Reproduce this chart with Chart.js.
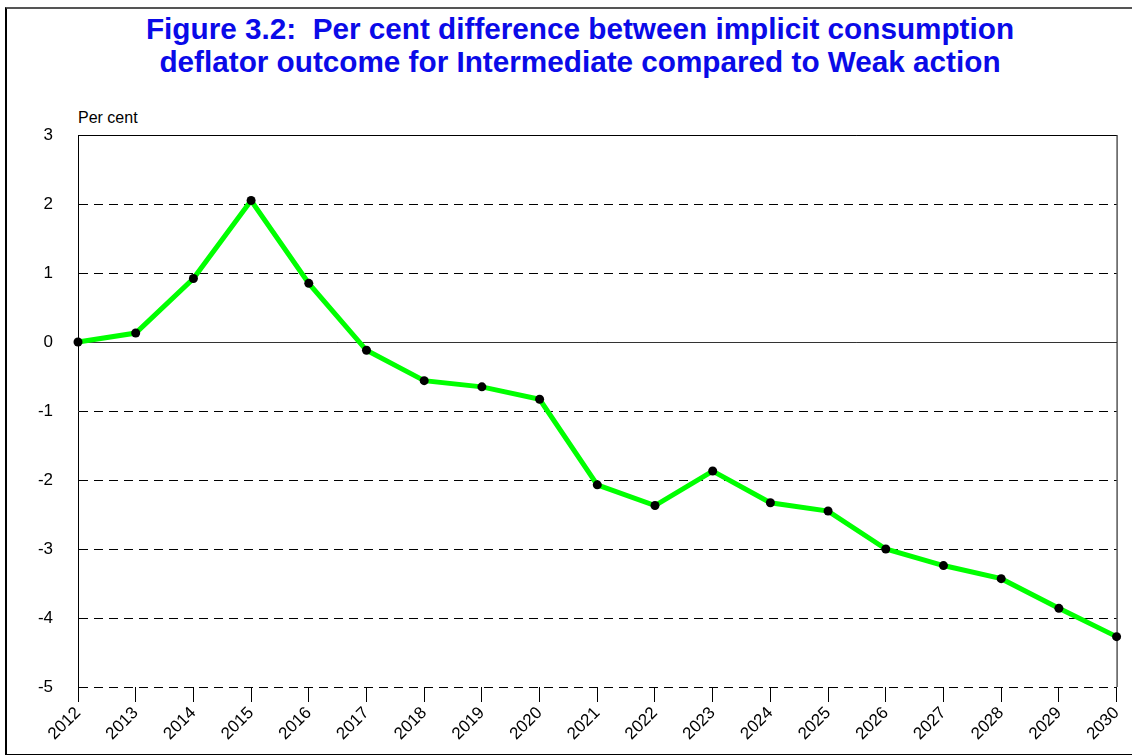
<!DOCTYPE html>
<html>
<head>
<meta charset="utf-8">
<script src="https://cdn.jsdelivr.net/npm/chart.js@4/dist/chart.umd.min.js"></script>
<style>
  html, body { margin: 0; padding: 0; background: #fff; }
  #wrap { position: relative; width: 1132px; height: 755px; overflow: hidden; }
  #frame { position: absolute; left: 5px; top: 7px; width: 1200px; height: 745px;
           border-left: 2px solid #000; border-top: 2px solid #555; border-bottom: 2px solid #000; }
  #title { position: absolute; left: 0; top: 12px; width: 1160px; text-align: center;
           font: bold 30px "Liberation Sans", Arial, sans-serif;
           color: #0a0ae8; line-height: 33px; transform: scaleX(0.99); }
  #unit { position: absolute; left: 78px; top: 109px; font: 16px "Liberation Sans", Arial, sans-serif; color: #000; }
  canvas { position: absolute; left: 0; top: 0; }
</style>
</head>
<body>
<div id="wrap">
  <div id="frame"></div>
  <div id="title">Figure 3.2:&nbsp; Per cent difference between implicit consumption<br>deflator outcome for Intermediate compared to Weak action</div>
  <div id="unit">Per cent</div>
  <canvas id="chart" width="1132" height="755"></canvas>
</div>
<script>
// years along the bottom, per cent difference on the left
const years = ["2012", "2013", "2014", "2015", "2016", "2017", "2018", "2019", "2020", "2021",
               "2022", "2023", "2024", "2025", "2026", "2027", "2028", "2029", "2030"];
const pctDiff = [0, 0.13, 0.92, 2.05, 0.85, -0.12, -0.56, -0.65, -0.83, -2.07,
                 -2.37, -1.87, -2.33, -2.45, -3.0, -3.24, -3.43, -3.86, -4.27];
const yTicks = [3, 2, 1, 0, -1, -2, -3, -4, -5];

// solid top/right frame of the plot and the solid zero line
const frameLines = {
  id: "frameLines",
  afterDraw(chart) {
    const { ctx, chartArea: a } = chart;
    ctx.save();
    ctx.strokeStyle = "#000";
    ctx.lineWidth = 1;
    ctx.beginPath();
    ctx.moveTo(a.left, a.top + 0.5); ctx.lineTo(a.right, a.top + 0.5);
    ctx.moveTo(a.right + 0.5, a.top); ctx.lineTo(a.right + 0.5, a.bottom);
    ctx.stroke();
    ctx.restore();
  },
  beforeDatasetsDraw(chart) {
    const { ctx, chartArea: a, scales } = chart;
    const y0 = Math.round(scales.y.getPixelForValue(0)) + 0.5;
    ctx.save();
    ctx.strokeStyle = "#333";
    ctx.lineWidth = 1;
    ctx.beginPath();
    ctx.moveTo(a.left, y0); ctx.lineTo(a.right, y0);
    ctx.stroke();
    ctx.restore();
  }
};

new Chart(document.getElementById("chart"), {
  type: "line",
  data: {
    labels: years,
    datasets: [{
      data: pctDiff,
      borderColor: "#00ff00",
      borderWidth: 5,
      pointRadius: 4.5,
      pointBackgroundColor: "#000",
      pointBorderColor: "#000",
      pointBorderWidth: 0,
      tension: 0,
      clip: false,
    }],
  },
  options: {
    responsive: false,
    animation: false,
    layout: { padding: { top: 135, right: 11, left: 0, bottom: 0 } },
    plugins: { legend: { display: false }, title: { display: false }, tooltip: { enabled: false } },
    scales: {
      x: {
        offset: false,
        afterFit: s => { s.height = 68; },
        grid: { drawOnChartArea: false, drawTicks: true, tickLength: 15, color: "#000" },
        border: { display: false },
        ticks: {
          color: "#000", font: { family: "Liberation Sans", size: 17 },
          maxRotation: 45, minRotation: 45, autoSkip: false, padding: 1,
        },
      },
      y: {
        min: -5, max: 3,
        afterFit: s => { s.width = 78; },
        afterBuildTicks: s => { s.ticks = yTicks.map(v => ({ value: v })); },
        grid: { drawTicks: false, color: "#000", lineWidth: 1 },
        border: { display: true, color: "#000", width: 1, dash: [9, 6] },
        ticks: {
          color: "#000", font: { family: "Liberation Sans", size: 17 }, padding: 25,
        },
      },
    },
  },
  plugins: [frameLines],
});
</script>
</body>
</html>
